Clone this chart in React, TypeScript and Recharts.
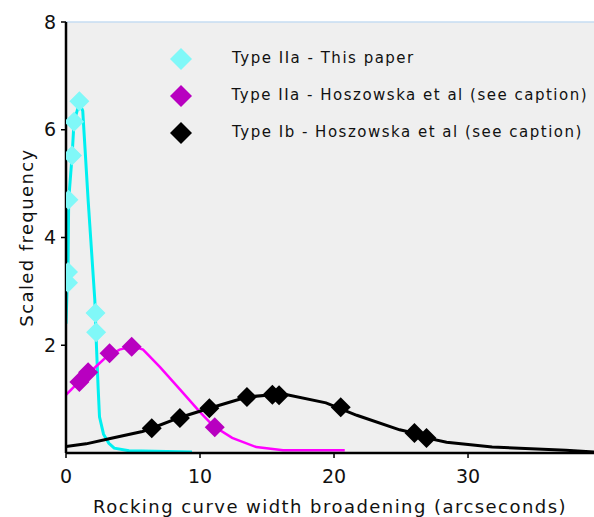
import {
  ComposedChart,
  CartesianGrid,
  Legend,
  Line,
  ReferenceLine,
  Scatter,
  XAxis,
  YAxis,
} from "recharts";

type Pt = { x: number; y: number };

// measured points (diamonds)
const cyanPoints: Pt[] = [
  { x: 1.0, y: 6.53 },
  { x: 0.6, y: 6.15 },
  { x: 0.45, y: 5.52 },
  { x: 0.18, y: 4.7 },
  { x: 0.15, y: 3.36 },
  { x: 0.15, y: 3.16 },
  { x: 2.2, y: 2.6 },
  { x: 2.25, y: 2.24 },
];
const magentaPoints: Pt[] = [
  { x: 1.0, y: 1.32 },
  { x: 1.65, y: 1.5 },
  { x: 3.25, y: 1.85 },
  { x: 4.9, y: 1.97 },
  { x: 11.1, y: 0.48 },
];
const blackPoints: Pt[] = [
  { x: 6.4, y: 0.46 },
  { x: 8.5, y: 0.65 },
  { x: 10.7, y: 0.83 },
  { x: 13.5, y: 1.04 },
  { x: 15.4, y: 1.08 },
  { x: 15.9, y: 1.07 },
  { x: 20.5, y: 0.85 },
  { x: 26.0, y: 0.37 },
  { x: 26.9, y: 0.28 },
];

// fitted curves
const cyanCurve: Pt[] = [
  { x: 0, y: 2.4 },
  { x: 0.1, y: 3.2 },
  { x: 0.15, y: 3.4 },
  { x: 0.2, y: 4.7 },
  { x: 0.45, y: 5.5 },
  { x: 0.6, y: 6.15 },
  { x: 1.0, y: 6.5 },
  { x: 1.25, y: 6.35 },
  { x: 1.65, y: 4.7 },
  { x: 2.15, y: 2.84 },
  { x: 2.27, y: 2.0 },
  { x: 2.4, y: 1.2 },
  { x: 2.5, y: 0.67 },
  { x: 2.8, y: 0.35 },
  { x: 3.2, y: 0.18 },
  { x: 3.6, y: 0.09 },
  { x: 4.7, y: 0.04 },
  { x: 9.4, y: 0.02 },
];
const magentaCurve: Pt[] = [
  { x: 0, y: 1.08 },
  { x: 1, y: 1.33 },
  { x: 2, y: 1.55 },
  { x: 3, y: 1.78 },
  { x: 4, y: 1.92 },
  { x: 5, y: 1.98 },
  { x: 5.75, y: 1.92 },
  { x: 7, y: 1.6 },
  { x: 8.5, y: 1.18 },
  { x: 10, y: 0.76 },
  { x: 11, y: 0.5 },
  { x: 12.4, y: 0.28 },
  { x: 14.2, y: 0.11 },
  { x: 16.2, y: 0.05 },
  { x: 20.8, y: 0.05 },
];
const blackCurve: Pt[] = [
  { x: 0, y: 0.12 },
  { x: 1.5, y: 0.17 },
  { x: 3.3, y: 0.27 },
  { x: 5.7, y: 0.4 },
  { x: 6.4, y: 0.46 },
  { x: 8.5, y: 0.66 },
  { x: 10.7, y: 0.83 },
  { x: 13.5, y: 1.04 },
  { x: 15.4, y: 1.08 },
  { x: 16.5, y: 1.08 },
  { x: 19.4, y: 0.93 },
  { x: 21.7, y: 0.7 },
  { x: 24.9, y: 0.43 },
  { x: 26.0, y: 0.37 },
  { x: 26.9, y: 0.28 },
  { x: 28.4, y: 0.2 },
  { x: 31.8, y: 0.11 },
  { x: 37.3, y: 0.05 },
  { x: 39.4, y: 0.02 },
];

const xTicks = [0, 10, 20, 30];
const yTicks = [2, 4, 6, 8];

const legendItems = [
  { label: "Type IIa - This paper", color: "#80f8f8" },
  { label: "Type IIa - Hoszowska et al (see caption)", color: "#b800c0" },
  { label: "Type Ib - Hoszowska et al (see caption)", color: "#000000" },
];

const FONT = "DejaVu Sans, Verdana, sans-serif";

const makeDiamond = (fill: string, r = 10) => (props: any) => {
  const { cx, cy } = props;
  if (cx == null || cy == null) return <g />;
  return (
    <polygon
      points={`${cx},${cy - r} ${cx + r},${cy} ${cx},${cy + r} ${cx - r},${cy}`}
      fill={fill}
    />
  );
};

const LegendBox = () => (
  <div
    style={{
      fontFamily: FONT,
      fontSize: 15,
      letterSpacing: 1.5,
      color: "#111",
      lineHeight: 1,
    }}
  >
    {legendItems.map((it) => (
      <div
        key={it.label}
        style={{ display: "flex", alignItems: "center", height: 37 }}
      >
        <svg width={26} height={26} style={{ marginRight: 38 }}>
          <polygon points="13,2 24,13 13,24 2,13" fill={it.color} />
        </svg>
        <span style={{ whiteSpace: "nowrap" }}>{it.label}</span>
      </div>
    ))}
  </div>
);

export default function App() {
  return (
    <div style={{ position: "absolute", left: 0, top: 0, background: "#fff" }}>
      <ComposedChart
        width={594}
        height={517}
        margin={{ top: 22, right: 0, bottom: 0, left: 0 }}
      >
        <CartesianGrid fill="#efefef" horizontal={false} vertical={false} />
        <XAxis
          type="number"
          dataKey="x"
          domain={[0, 39.4]}
          ticks={xTicks}
          height={64}
          axisLine={{ stroke: "#000", strokeWidth: 2.5 }}
          tickLine={{ stroke: "#000", strokeWidth: 1.5 }}
          tickSize={5}
          tickMargin={12}
          tick={{ fill: "#111", fontSize: 19, fontFamily: FONT }}
          allowDataOverflow
          label={{
            value: "Rocking curve width broadening (arcseconds)",
            position: "insideBottom",
            offset: 4,
            style: {
              fill: "#111",
              fontSize: 18,
              fontFamily: FONT,
              letterSpacing: 1.45,
            },
          }}
        />
        <YAxis
          type="number"
          dataKey="y"
          domain={[0, 8]}
          ticks={yTicks}
          width={66}
          axisLine={{ stroke: "#000", strokeWidth: 2.5 }}
          tickLine={{ stroke: "#000", strokeWidth: 1.5 }}
          tickSize={5}
          tickMargin={5}
          tick={{ fill: "#111", fontSize: 19, fontFamily: FONT }}
          allowDataOverflow
          label={{
            value: "Scaled frequency",
            angle: -90,
            position: "insideLeft",
            offset: 27,
            style: {
              fill: "#111",
              fontSize: 18,
              fontFamily: FONT,
              letterSpacing: 1.4,
              textAnchor: "middle",
            },
          }}
        />
        <ReferenceLine y={8} stroke="#c6dcf2" strokeWidth={1.5} />
        <Legend
          layout="vertical"
          align="center"
          verticalAlign="middle"
          content={<LegendBox />}
          wrapperStyle={{ position: "absolute", left: 168, top: 40, width: 420 }}
        />
        <Scatter
          data={cyanPoints}
          shape={makeDiamond("#80f8f8")}
          isAnimationActive={false}
          legendType="none"
        />
        <Scatter
          data={magentaPoints}
          shape={makeDiamond("#b800c0")}
          isAnimationActive={false}
          legendType="none"
        />
        <Line
          data={cyanCurve}
          dataKey="y"
          type="linear"
          stroke="#00f0f0"
          strokeWidth={3}
          dot={false}
          isAnimationActive={false}
          legendType="none"
        />
        <Line
          data={magentaCurve}
          dataKey="y"
          type="linear"
          stroke="#ff00ff"
          strokeWidth={2.5}
          dot={false}
          isAnimationActive={false}
          legendType="none"
        />
        <Line
          data={blackCurve}
          dataKey="y"
          type="linear"
          stroke="#000"
          strokeWidth={3}
          dot={false}
          isAnimationActive={false}
          legendType="none"
        />
        <Scatter
          data={blackPoints}
          shape={makeDiamond("#000")}
          isAnimationActive={false}
          legendType="none"
        />
      </ComposedChart>
    </div>
  );
}
